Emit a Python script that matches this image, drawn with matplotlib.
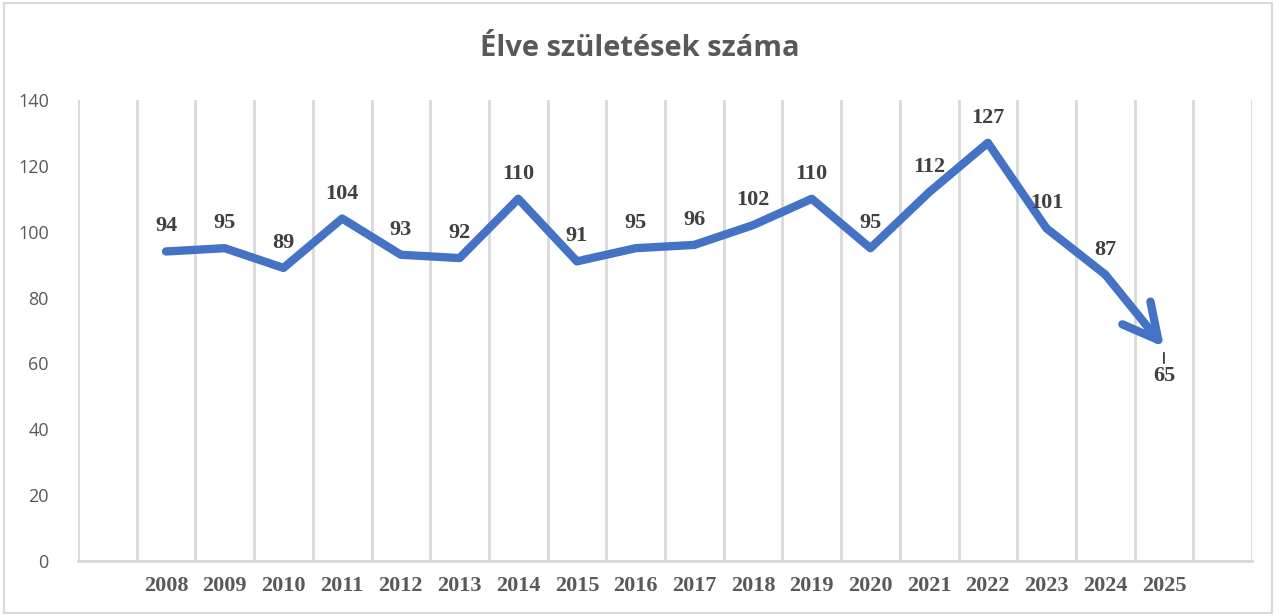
import numpy as np
import matplotlib
matplotlib.use("Agg")
import matplotlib.pyplot as plt
from matplotlib.patches import Rectangle

years = ['2008', '2009', '2010', '2011', '2012', '2013', '2014', '2015', '2016',
         '2017', '2018', '2019', '2020', '2021', '2022', '2023', '2024', '2025']
births = [94, 95, 89, 104, 93, 92, 110, 91, 95, 96, 102, 110, 95, 112, 127, 101, 87, 65]

blue = '#4472C4'
grey = '#595959'
grid = '#D9D9D9'

fig = plt.figure(figsize=(12.8, 6.15), dpi=100)
ax = fig.add_axes([78/1280, 54/615, (1252-78)/1280, (561-100)/615])

# one empty category slot on each side, like the original
x = np.arange(1, len(years) + 1)
ax.set_xlim(-0.5, len(years) + 1.5)
ax.set_ylim(0, 140)

# line up to 2024, last segment drawn as an arrow
ax.plot(x[:-1], births[:-1], color=blue, lw=6, solid_capstyle='round',
        solid_joinstyle='round', zorder=3)
ax.annotate('', xy=(x[-1], births[-1]), xytext=(x[-2], births[-2]),
            arrowprops=dict(arrowstyle='->,head_length=2.5,head_width=1.3',
                            color=blue, lw=6, capstyle='round',
                            joinstyle='round', shrinkA=0, shrinkB=0),
            zorder=3)

# data labels
for xi, v in zip(x[:-1], births[:-1]):
    ax.annotate(str(v), (xi, v), xytext=(0, 18), textcoords='offset points',
                ha='center', va='center', fontsize=16, fontweight='bold',
                family='Liberation Serif', color='#404040')
ax.annotate(str(births[-1]), (x[-1], births[-1]), xytext=(0, -21),
            textcoords='offset points', ha='center', va='center', fontsize=16,
            fontweight='bold', family='Liberation Serif', color='#404040',
            arrowprops=dict(arrowstyle='-', color='black', lw=1,
                            shrinkA=0, shrinkB=4), zorder=2)

# vertical gridlines between categories
ax.set_xticks(np.arange(-0.5, len(years) + 2), minor=True)
ax.grid(True, which='minor', axis='x', color=grid, lw=2)
ax.set_xticks(x)
ax.set_xticklabels(years, fontsize=16, fontweight='bold',
                   family='Liberation Serif', color=grey)
ax.set_yticks(np.arange(0, 141, 20))
ax.tick_params(axis='y', labelsize=13, labelcolor=grey, length=0, pad=21)
ax.tick_params(axis='x', which='both', length=0, pad=11)
for lab in ax.get_yticklabels():
    lab.set_family('Open Sans')

for s in ['top', 'right', 'left']:
    ax.spines[s].set_visible(False)
ax.spines['bottom'].set_color(grid)
ax.spines['bottom'].set_linewidth(2)

fig.text(0.5, 1 - 48/615, 'Élve születések száma', ha='center', va='center',
         fontsize=21, fontweight='bold', family='Open Sans', color=grey)

# chart border
fig.patches.append(Rectangle((4/1280, 2/615), 1268/1280, 610/615,
                             transform=fig.transFigure, fill=False,
                             edgecolor=grid, lw=1.5))

fig.savefig('out.png', dpi=100)
